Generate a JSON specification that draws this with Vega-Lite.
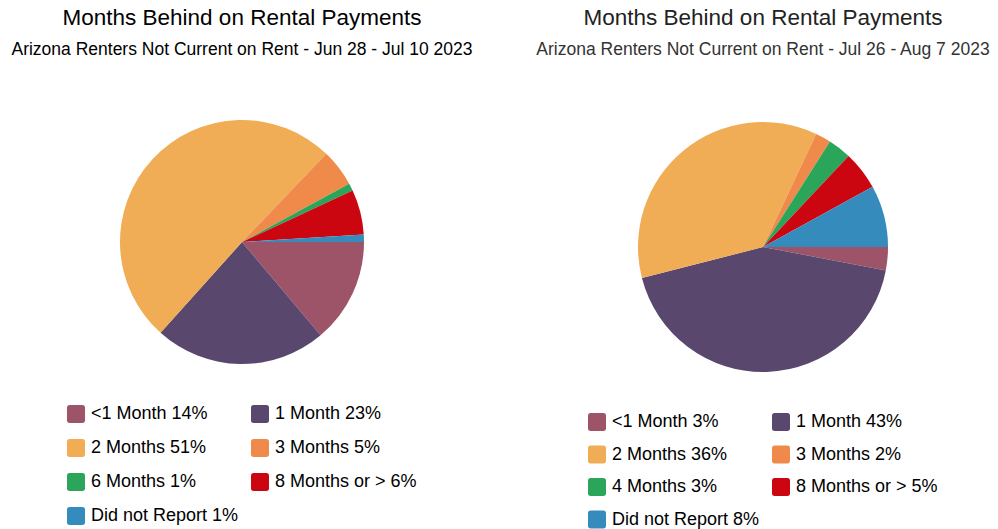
{
  "$schema": "https://vega.github.io/schema/vega-lite/v6.json",
  "background": "white",
  "padding": {"top": 7, "left": 0, "right": 0, "bottom": 0},
  "spacing": 44,
  "config": {
    "view": {"stroke": null},
    "font": "Liberation Sans",
    "title": {"font": "Liberation Sans", "subtitleFont": "Liberation Sans", "fontWeight": "normal", "fontSize": 22.5, "subtitleFontSize": 17.5, "subtitlePadding": 11, "anchor": "middle", "offset": 22}
  },
  "resolve": {"scale": {"color": "independent", "theta": "independent"}},
  "hconcat": [
    {
      "width": 484,
      "height": 324,
      "title": {"text": "Months Behind on Rental Payments", "subtitle": "Arizona Renters Not Current on Rent - Jun 28 - Jul 10 2023", "color": "#000000", "subtitleColor": "#000000"},
      "data": {"values": [
        {"k": 1, "category": "<1 Month 14%", "pct": 14},
        {"k": 2, "category": "1 Month 23%", "pct": 23},
        {"k": 3, "category": "2 Months 51%", "pct": 51},
        {"k": 4, "category": "3 Months 5%", "pct": 5},
        {"k": 5, "category": "6 Months 1%", "pct": 1},
        {"k": 6, "category": "8 Months or > 6%", "pct": 6},
        {"k": 7, "category": "Did not Report 1%", "pct": 1}
      ]},
      "mark": {"type": "arc", "radius": 122},
      "encoding": {
        "theta": {"field": "pct", "type": "quantitative", "stack": true, "scale": {"range": [1.5708, 7.8540]}},
        "order": {"field": "k", "type": "quantitative", "sort": "ascending"},
        "color": {
          "field": "category", "type": "nominal",
          "scale": {
            "domain": ["<1 Month 14%", "1 Month 23%", "2 Months 51%", "3 Months 5%", "6 Months 1%", "8 Months or > 6%", "Did not Report 1%"],
            "range": ["#9e5468", "#5a476e", "#f0ad55", "#ef8a4a", "#2aa55a", "#cc0610", "#358bbb"]
          },
          "legend": {
            "title": null, "orient": "none", "legendX": 67, "legendY": 325, "columns": 2, "direction": "horizontal",
            "padding": 0, "columnPadding": 12, "rowPadding": 16, "labelOffset": 6,
            "labelFont": "Liberation Sans", "labelFontSize": 18, "labelLimit": 300,
            "symbolType": "M -0.7 -1 L 0.7 -1 Q 1 -1 1 -0.7 L 1 0.7 Q 1 1 0.7 1 L -0.7 1 Q -1 1 -1 0.7 L -1 -0.7 Q -1 -1 -0.7 -1 Z",
            "symbolSize": 324, "symbolStrokeWidth": 0,
            "encode": {"labels": {"fill": {"value": {"expr": "['#9e5468','#5a476e','#f0ad55','#ef8a4a','#2aa55a','#cc0610','#358bbb'][datum.index]"}}}}
          }
        }
      }
    },
    {
      "width": 470,
      "height": 334,
      "title": {"text": "Months Behind on Rental Payments", "subtitle": "Arizona Renters Not Current on Rent - Jul 26 - Aug 7 2023", "color": "#222222", "subtitleColor": "#333333"},
      "data": {"values": [
        {"k": 1, "category": "<1 Month 3%", "pct": 3},
        {"k": 2, "category": "1 Month 43%", "pct": 43},
        {"k": 3, "category": "2 Months 36%", "pct": 36},
        {"k": 4, "category": "3 Months 2%", "pct": 2},
        {"k": 5, "category": "4 Months 3%", "pct": 3},
        {"k": 6, "category": "8 Months or > 5%", "pct": 5},
        {"k": 7, "category": "Did not Report 8%", "pct": 8}
      ]},
      "mark": {"type": "arc", "radius": 125},
      "encoding": {
        "theta": {"field": "pct", "type": "quantitative", "stack": true, "scale": {"range": [1.5708, 7.8540]}},
        "order": {"field": "k", "type": "quantitative", "sort": "ascending"},
        "color": {
          "field": "category", "type": "nominal",
          "scale": {
            "domain": ["<1 Month 3%", "1 Month 43%", "2 Months 36%", "3 Months 2%", "4 Months 3%", "8 Months or > 5%", "Did not Report 8%"],
            "range": ["#9e5468", "#5a476e", "#f0ad55", "#ef8a4a", "#2aa55a", "#cc0610", "#358bbb"]
          },
          "legend": {
            "title": null, "orient": "none", "legendX": 60, "legendY": 333, "columns": 2, "direction": "horizontal",
            "padding": 0, "columnPadding": 12, "rowPadding": 14.5, "labelOffset": 6,
            "labelFont": "Liberation Sans", "labelFontSize": 18, "labelLimit": 300,
            "symbolType": "M -0.7 -1 L 0.7 -1 Q 1 -1 1 -0.7 L 1 0.7 Q 1 1 0.7 1 L -0.7 1 Q -1 1 -1 0.7 L -1 -0.7 Q -1 -1 -0.7 -1 Z",
            "symbolSize": 324, "symbolStrokeWidth": 0,
            "encode": {"labels": {"fill": {"value": {"expr": "['#9e5468','#5a476e','#f0ad55','#ef8a4a','#2aa55a','#cc0610','#358bbb'][datum.index]"}}}}
          }
        }
      }
    }
  ]
}
